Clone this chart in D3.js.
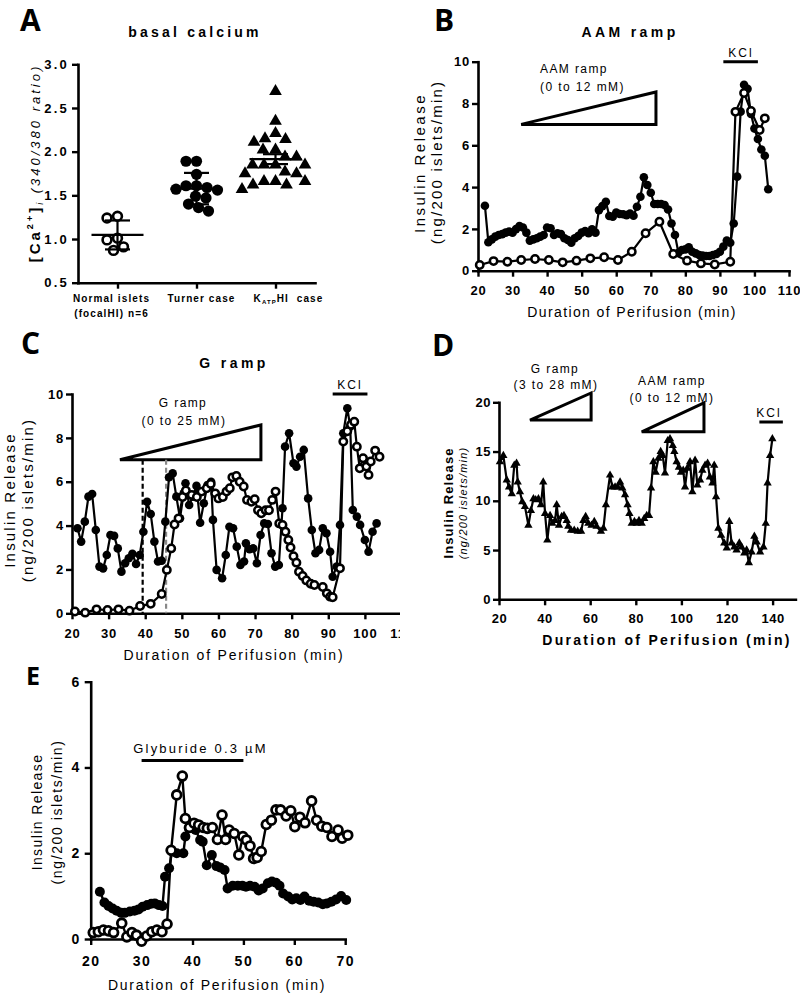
<!DOCTYPE html>
<html><head><meta charset="utf-8">
<script src="https://cdn.jsdelivr.net/npm/d3@7"></script>
<style>
body{margin:0;background:#fff;}
svg{display:block;}
</style></head><body>
<svg id="c" width="800" height="994"></svg>
<script>
// ================= DATA =================
// Panel A – basal calcium
const aCategories = ["Normal islets", "Turner case", "KATPHI case"];
const aNormal = [1.24, 1.26, 0.99, 1.01, 0.87, 0.91];
const aTurner = [1.89, 1.89, 1.74, 1.61, 1.59, 1.57, 1.61, 1.56, 1.49, 1.47, 1.40, 1.36, 1.32];
const aKatp = [2.69, 2.35, 2.21, 2.15, 2.14, 2.11, 2.02, 2.02, 1.94, 1.94, 1.85, 1.85, 1.85, 1.85,
               1.77, 1.75, 1.75, 1.66, 1.66, 1.66, 1.62, 1.62, 1.57];
const aYTicks = [0.5, 1.0, 1.5, 2.0, 2.5, 3.0];

// Panel B – AAM ramp
const bTimeFilled = [22,23,24,25,26,27,28,29,30,31,32,33,34,35,36,37,38,39,40,41,42,43,44,45,46,47,48,49,50,51,
  52,53,54,55,56,57,58,59,60,61,62,63,64,65,66,67,68,69,70,71,72,73,74,75,76,77,78,79,80,81,
  82,83,84,85,86,87,88,89,90,91,92,93,94,95,96,97,98,99,100,101,102,103,104];
const bInsFilled = [3.11,1.36,1.50,1.63,1.71,1.75,1.82,1.87,1.82,1.99,
  2.14,2.07,1.82,1.44,1.50,1.55,1.63,1.71,2.07,2.03,
  1.71,1.79,1.75,1.55,1.47,1.34,1.55,1.66,1.82,1.90,
  1.79,1.98,1.82,2.90,3.09,3.30,2.62,2.58,2.78,2.71,
  2.70,2.66,2.74,2.63,3.06,3.54,4.47,4.10,3.73,3.19,
  3.19,3.19,3.14,2.93,2.26,1.71,0.86,0.99,1.02,1.12,
  0.91,0.83,0.75,0.72,0.70,0.70,0.75,0.80,0.91,1.15,
  1.44,1.34,2.26,4.50,7.61,8.90,8.70,7.50,6.80,6.30,
  5.80,5.50,3.90];
const bTimeOpen = [20.5,24.5,28.5,32.5,36.5,40.5,44.5,48.5,52.5,56.5,60.5,64.5,68.5,72.5,76.5,80.5,84.5,88.5,93,94.5,97,99,101.5,103];
const bInsOpen = [0.27,0.46,0.43,0.51,0.56,0.51,0.40,0.48,0.59,0.64,0.51,0.91,1.79,2.34,0.80,0.48,0.35,0.30,0.43,7.60,8.50,7.64,6.73,7.29];
const bXTicks = [20,30,40,50,60,70,80,90,100,110];
const bYTicks = [0,2,4,6,8,10];
const bRamp = [32.5, 71.5, 7, 8.55];
const bKcl = [91, 101, 10];

// Panel C – G ramp
const cTimeFilled = [21.5,22.5,23.5,24.5,25.5,26.5,27.5,28.5,29.5,30.5,
  31.5,32.5,33.5,34.5,35.5,36.5,37.5,38.5,39.5,40.5,
  41.5,42.5,43.5,44.5,45.5,46.5,47.5,48.5,49.5,50.5,
  51,52,53,54,55,56,57,58,58.5,59.5,
  61,62,63,64,65,66,67,67.5,68.5,69.5,
  70.5,71.5,72.5,73.5,74.5,75.5,76.5,77.5,78.2,79.3,
  80.5,81.3,82.3,83.3,84.5,85.5,86.5,87.5,88.5,89.5,
  90.5,91.2,92.3,93.2,94.1,95.2,96,96.7,97.8,98.7,
  100,101,102.1,103.2];
const cInsFilled = [3.88,3.27,4.18,5.32,5.44,3.80,2.13,2.05,2.66,3.57,
  3.53,2.96,1.90,2.28,2.51,2.71,2.25,2.66,3.72,5.09,
  4.53,3.27,2.36,2.40,4.18,6.20,6.38,5.32,4.33,5.47,
  5.93,4.94,5.32,5.81,4.13,5.02,5.85,6.00,4.26,1.98,
  1.60,2.66,3.95,3.88,3.04,2.20,2.36,3.19,2.92,2.96,
  2.28,3.57,4.10,4.07,2.74,2.13,2.20,4.79,7.60,8.21,
  6.84,6.69,7.14,7.45,5.24,3.80,2.74,2.89,3.88,3.65,
  2.81,1.67,2.13,4.03,8.21,9.35,8.51,4.71,4.41,4.03,
  3.34,2.81,3.72,4.10];
const cTimeOpen = [20.8,23.6,26.7,29.7,32.7,35.7,38.6,41.5,44.5,45.9,
  47.1,48,49.1,50.2,51.1,52.7,54.1,55.4,56.8,57.9,
  59.1,60,61.2,62.2,63.1,63.8,64.9,65.8,66.9,67.8,
  69,69.9,70.8,71.7,72.9,73.8,74.7,75.6,76.6,77.5,
  78.3,79.1,79.7,80.5,81.3,82,83,84,85.2,86.2,
  88.5,89.6,90.5,91.2,93.2,94.1,95.2,96.2,97.1,97.8,
  98.6,99.5,100.4,101,101.6,102.8,104];
const cInsOpen = [0.08,0.03,0.18,0.15,0.18,0.12,0.33,0.43,0.88,1.98,
  2.96,4.05,4.33,5.3,5.6,5.4,5.3,5.55,5.7,5.9,
  5.47,5.24,5.3,5.55,5.7,6.2,6.26,6.0,5.78,5.17,
  5.09,5.2,4.7,4.56,4.7,4.7,5.17,5.55,4.1,4.03,
  3.72,3.34,3.0,2.6,2.31,1.9,1.7,1.5,1.35,1.29,
  1.2,0.91,0.76,0.73,2.05,7.83,8.3,8.6,8.74,7.6,
  6.61,7.07,6.69,6.31,6.92,7.42,7.14];
const cXTicks = [20,30,40,50,60,70,80,90,100,110];
const cYTicks = [0,2,4,6,8,10];
const cRamp = [33.1, 71.6, 7, 8.59];
const cKcl = [91.2, 100.7, 10];
const cDashTimes = [39.3, 45.7];

// Panel D – sequential ramps
const dTime = [20.4,21.9,23.4,24.4,25.6,26.7,27.7,28.2,29.2,30.2,
  31.4,32.9,34.0,35.1,36.1,37.3,38.4,39.4,40.2,41.2,
  42.4,43.4,44.6,45.3,46.3,47.5,48.5,49.7,50.4,51.6,
  53.0,54.5,56.0,57.0,58.0,59.2,60.6,61.8,62.8,64.7,
  65.8,66.9,68.7,69.7,70.9,72.0,73.1,74.1,75.3,76.4,
  77.2,78.2,79.4,80.4,81.4,82.6,83.7,84.8,85.8,86.7,
  87.7,88.7,89.9,90.9,91.8,92.8,94.0,95.0,96.2,96.9,
  97.9,98.9,99.8,100.8,101.6,102.6,103.8,104.8,106.0,107.0,
  108.2,109.2,110.4,111.5,112.5,113.6,114.4,115.2,116.2,117.4,
  118.8,119.9,121.0,122.0,123.2,124.2,125.4,126.4,127.6,128.6,
  129.6,130.8,132.0,133.0,134.5,136.0,137.0,137.8,138.9,139.9];
const dIns = [13.95,14.6,12.1,11.4,10.7,13.6,13.8,11.9,10.9,9.9,
  9.4,7.5,9.0,10.2,10.1,10.2,9.6,11.9,8.7,6.0,
  8.5,7.7,8.0,9.6,7.5,8.4,8.5,8.0,7.4,7.0,
  7.0,6.9,6.9,8.0,8.4,7.7,7.5,7.9,7.4,6.9,
  7.2,9.6,12.6,11.4,11.4,11.4,11.9,11.3,10.6,9.6,
  8.7,7.7,7.9,7.7,8.0,7.7,8.2,8.5,8.5,11.3,
  13.95,12.9,14.3,15.0,14.6,12.8,16.1,16.3,15.6,15.0,
  13.95,13.4,12.9,13.1,11.4,13.3,13.95,10.9,14.1,11.6,
  12.1,13.1,13.6,13.8,12.4,11.8,13.6,10.4,7.2,6.5,
  5.7,5.2,7.9,5.7,5.3,5.0,5.7,5.3,4.7,5.0,
  3.7,4.8,6.4,5.8,4.8,5.3,7.7,11.8,14.6,16.3];
const dXTicks = [20,40,60,80,100,120,140];
const dYTicks = [0,5,10,15,20];
const dRampG = [33.6, 60.4, 18.2, 20.95];
const dRampAAM = [82.6, 109.9, 17.0, 19.95];
const dKcl = [134.2, 144.5, 18];

// Panel E – glyburide
const eTimeFilled = [21.8,22.7,23.5,24.3,25.1,26,26.7,27.7,28.6,29.4,
  30.2,31.1,31.9,32.6,33.4,34.1,34.6,35.4,36,36.9,
  38.2,38.6,39.3,40,40.6,41.5,42,42.8,43.8,44.7,
  45.4,46.3,46.9,47.9,48.9,49.8,50.5,51.3,52.2,53,
  53.8,54.8,55.6,56.4,57.1,57.8,58.8,59.6,60.4,61.2,
  62,62.9,63.8,64.7,65.6,66.4,67.3,68.2,69.2,70.2];
const eInsFilled = [1.10,0.85,0.77,0.71,0.66,0.61,0.61,0.64,0.66,0.69,
  0.75,0.79,0.82,0.83,0.79,0.77,1.45,1.65,2.04,2.00,
  2.00,2.39,2.58,2.60,2.54,2.31,2.27,1.72,1.96,1.70,
  1.67,1.61,1.18,1.24,1.24,1.24,1.22,1.24,1.22,1.13,
  1.18,1.30,1.34,1.31,1.24,1.06,0.99,0.92,0.95,0.91,
  0.99,0.89,0.87,0.85,0.81,0.83,0.87,0.92,1.00,0.91];
const eTimeOpen = [20.5,21.5,22.5,23.5,24.5,26.1,27.1,28.1,29,30,
  31,32,33,34,35,35.8,36.9,38,38.6,39.4,
  40.3,41.2,42.1,42.9,43.9,44.9,45.8,46.5,47.2,48.2,
  49.1,49.9,50.6,51.3,52,52.7,53.5,54.5,55.5,56.4,
  57.3,58.4,59.3,60.1,61.1,62.1,63.4,64.4,65.4,66.4,
  67.4,68.6,69.4,70.5];
const eInsOpen = [0.15,0.17,0.21,0.19,0.15,0.37,0.05,0.15,0.09,-0.05,
  0.07,0.17,0.21,0.17,0.35,2.07,3.36,3.80,2.81,2.60,
  2.70,2.66,2.60,2.58,2.60,2.32,2.89,2.32,2.54,2.46,
  1.96,2.39,2.31,2.17,1.88,1.90,2.04,2.67,2.77,3.01,
  3.01,2.87,2.99,2.62,2.84,2.71,3.22,2.77,2.63,2.60,
  2.39,2.54,2.35,2.42];
const eXTicks = [20,30,40,50,60,70];
const eYTicks = [0,2,4,6];
const eGlyb = [30, 50, 4.16];

// ================= DRAWING =================
const FONT = '"Liberation Sans", Arial, Helvetica, sans-serif';
const svg = d3.select("#c").style("font-family", FONT);

function T(x, y, s, o = {}) {
  const t = svg.append("text").attr("x", x).attr("y", y)
    .attr("text-anchor", o.anchor || "middle")
    .style("font-family", o.family || FONT)
    .style("font-size", (o.size || 12) + "px")
    .style("font-weight", o.weight || "normal")
    .style("font-style", o.style || "normal")
    .style("letter-spacing", (o.ls || 0) + "px")
    .attr("fill", "#000");
  if (s !== null) t.text(s);
  if (o.rot) t.attr("transform", `rotate(-90,${x},${y})`);
  return t;
}
function styleAxis(sel, f) {
  sel.select(".domain").attr("stroke", "#000").attr("stroke-width", 2.6).attr("stroke-linecap", "square");
  sel.selectAll(".tick line").attr("stroke", "#000").attr("stroke-width", 2.4);
  sel.selectAll(".tick text").attr("fill", "#000").style("font-family", FONT)
    .style("font-weight", "bold").style("font-size", f.size + "px").style("letter-spacing", f.ls + "px");
}
function panelLetter(x, y, s, size) {
  T(x, y, s, {anchor: "start", family: '"Open Sans", "DejaVu Sans", sans-serif', weight: "bold", size: size});
}

// ---------- Panel A ----------
(function () {
  const x = d3.scalePoint().domain(aCategories).range([78, 315]).padding(0.5);
  const y = d3.scaleLinear().domain([0.5, 3.0]).range([282.7, 64.3]);
  const g = svg.append("g");
  const ax = g.append("g").attr("transform", "translate(0,282.7)")
    .call(d3.axisBottom(x).tickSize(6).tickSizeOuter(0).tickFormat(""));
  styleAxis(ax, {size: 12, ls: 1});
  const ay = g.append("g").attr("transform", "translate(78,0)")
    .call(d3.axisLeft(y).tickValues(aYTicks).tickFormat(d3.format(".1f")).tickSize(6).tickSizeOuter(0).tickPadding(3));
  styleAxis(ay, {size: 13, ls: 2.2});

  function swarm(values, cx, diam) {
    const placed = [], res = new Array(values.length);
    const order = values.map((v, i) => i).sort((a, b) => values[b] - values[a]);
    for (const i of order) {
      const py = y(values[i]);
      let px = cx;
      for (let k = 0; k < 400; k++) {
        const off = (k % 2 === 1 ? -1 : 1) * Math.ceil(k / 2) * 0.5;
        const cand = cx + off;
        if (placed.every(p => Math.hypot(p[0] - cand, p[1] - py) >= diam)) { px = cand; break; }
      }
      placed.push([px, py]); res[i] = [px, py];
    }
    return res;
  }
  const groups = [
    {vals: aNormal, kind: "open", err: "sd"},
    {vals: aTurner, kind: "filled", err: "sd"},
    {vals: aKatp, kind: "tri", err: "sem"}
  ];
  groups.forEach((gr, gi) => {
    const cx = x(aCategories[gi]);
    const pos = swarm(gr.vals, cx, gr.kind === "tri" ? 11.5 : 10.5);
    const pg = g.append("g");
    if (gr.kind === "tri") {
      pg.selectAll("path").data(pos).join("path")
        .attr("d", d3.symbol(d3.symbolTriangle, 70))
        .attr("transform", d => `translate(${d[0]},${d[1]})`).attr("fill", "#000");
    } else {
      pg.selectAll("circle").data(pos).join("circle")
        .attr("cx", d => d[0]).attr("cy", d => d[1])
        .attr("r", gr.kind === "open" ? 4.4 : 5.6)
        .attr("fill", gr.kind === "open" ? "#fff" : "#000")
        .attr("stroke", "#000").attr("stroke-width", gr.kind === "open" ? 2.6 : 0);
    }
    const m = d3.mean(gr.vals);
    const sd = d3.deviation(gr.vals);
    const e = gr.err === "sd" ? sd : sd / Math.sqrt(gr.vals.length);
    const eg = g.append("g").attr("stroke", "#000").attr("stroke-width", 2.2);
    eg.append("line").attr("x1", cx - 26).attr("x2", cx + 26).attr("y1", y(m)).attr("y2", y(m));
    eg.append("line").attr("x1", cx).attr("x2", cx).attr("y1", y(m - e)).attr("y2", y(m + e));
    [m - e, m + e].forEach(v => eg.append("line").attr("x1", cx - 12.5).attr("x2", cx + 12.5).attr("y1", y(v)).attr("y2", y(v)));
  });

  // category labels
  const lab = {size: 10, weight: "bold", ls: 1.1};
  T(x(aCategories[0]) - 6, 301.5, aCategories[0], lab);
  T(x(aCategories[0]) - 6, 317, "(focalHI) n=6", lab);
  T(x(aCategories[1]) + 5, 301.5, aCategories[1], lab);
  const kt = T(x(aCategories[2]) + 13, 301.5, null, lab);
  kt.append("tspan").text("K");
  kt.append("tspan").text("ATP").style("font-size", "6px").attr("dy", 2);
  kt.append("tspan").text("HI  case").attr("dy", -2).style("white-space", "pre");
  kt.style("white-space", "pre");

  // title and y label
  T(195, 37, "basal calcium", {size: 14, weight: "bold", ls: 3.2});
  const yl = T(40, 163, null, {size: 14, rot: true, ls: 3});
  yl.append("tspan").text("[Ca").style("font-weight", "bold").style("font-size", "15px");
  yl.append("tspan").text("2+").style("font-weight", "bold").style("font-size", "9px").attr("dy", -7);
  yl.append("tspan").text("]").style("font-weight", "bold").style("font-size", "15px").attr("dy", 7);
  yl.append("tspan").text("i").style("font-style", "italic").style("font-size", "9px").attr("dy", 3);
  yl.append("tspan").text(" (340/380 ratio)").style("font-style", "italic").style("font-size", "13px").attr("dy", -3);
  panelLetter(20, 31, "A", 30);
})();

// ---------- helpers for time-course panels ----------
function linePanel(cfg) {
  const g = svg.append("g");
  if (cfg.clip) {
    const id = "clipC";
    svg.append("clipPath").attr("id", id).append("rect")
      .attr("x", cfg.clip[0]).attr("y", cfg.clip[1]).attr("width", cfg.clip[2]).attr("height", cfg.clip[3]);
    g.attr("clip-path", `url(#${id})`);
  }
  const x = d3.scaleLinear().domain(cfg.xDomain).range(cfg.xRange);
  const y = d3.scaleLinear().domain(cfg.yDomain).range(cfg.yRange);
  const ax = g.append("g").attr("transform", `translate(0,${cfg.yRange[0]})`)
    .call(d3.axisBottom(x).tickValues(cfg.xTicks).tickFormat(d3.format("d")).tickSize(6).tickSizeOuter(0).tickPadding(cfg.xPad));
  styleAxis(ax, cfg.font);
  const ay = g.append("g").attr("transform", `translate(${cfg.xRange[0]},0)`)
    .call(d3.axisLeft(y).tickValues(cfg.yTicks).tickFormat(d3.format("d")).tickSize(6).tickSizeOuter(0).tickPadding(cfg.yPad));
  styleAxis(ay, cfg.font);
  const dataG = g.append("g");
  return {g: dataG, x, y};
}
function series(p, times, vals, kind, size, lw, ow) {
  const pts = d3.zip(times, vals);
  p.g.append("path").datum(pts).attr("fill", "none").attr("stroke", "#000")
    .attr("stroke-width", lw).attr("stroke-linejoin", "round")
    .attr("d", d3.line().x(d => p.x(d[0])).y(d => p.y(d[1])));
  const mg = p.g.append("g");
  if (kind === "tri") {
    mg.selectAll("path").data(pts).join("path")
      .attr("d", d3.symbol(d3.symbolTriangle, size))
      .attr("transform", d => `translate(${p.x(d[0])},${p.y(d[1])})`).attr("fill", "#000");
  } else {
    mg.selectAll("circle").data(pts).join("circle")
      .attr("cx", d => p.x(d[0])).attr("cy", d => p.y(d[1])).attr("r", size)
      .attr("fill", kind === "open" ? "#fff" : "#000")
      .attr("stroke", "#000").attr("stroke-width", kind === "open" ? (ow || 2.4) : 0);
  }
}
function ramp(p, r, lw) {
  const pts = [[r[0], r[2]], [r[1], r[2]], [r[1], r[3]]];
  p.g.append("path")
    .attr("d", "M" + pts.map(d => p.x(d[0]) + "," + p.y(d[1])).join("L") + "Z")
    .attr("fill", "#fff").attr("stroke", "#000").attr("stroke-width", lw).attr("stroke-linejoin", "miter");
}
function bar(p, b, lw) {
  p.g.append("line").attr("x1", p.x(b[0])).attr("x2", p.x(b[1]))
    .attr("y1", p.y(b[2])).attr("y2", p.y(b[2])).attr("stroke", "#000").attr("stroke-width", lw);
}

// ---------- Panel B ----------
(function () {
  const p = linePanel({xDomain: [20, 110], xRange: [478, 789], yDomain: [0, 10], yRange: [270.7, 61.7],
    xTicks: bXTicks, yTicks: bYTicks, xPad: 9, yPad: 2, font: {size: 13, ls: 0.8}});
  ramp(p, bRamp, 3);
  bar(p, bKcl, 3);
  series(p, bTimeFilled, bInsFilled, "filled", 4.3, 2.2);
  series(p, bTimeOpen, bInsOpen, "open", 3.7, 2.2, 2.5);
  T(540, 73, "AAM ramp", {anchor: "start", size: 12, ls: 1.4});
  T(540, 90.7, "(0 to 12 mM)", {anchor: "start", size: 12, ls: 1.4});
  T(741, 57, "KCl", {size: 12, ls: 2});
  T(630, 37, "AAM ramp", {size: 14, weight: "bold", ls: 3.4});
  T(632, 317, "Duration of Perifusion (min)", {size: 14, ls: 1.4});
  T(425, 163, "Insulin Release", {size: 15, ls: 2.5, rot: true});
  T(442, 162, "(ng/200 islets/min)", {size: 15, ls: 2.2, rot: true});
  panelLetter(434, 31, "B", 30);
})();

// ---------- Panel C ----------
(function () {
  const p = linePanel({xDomain: [20, 110], xRange: [72, 401.5], yDomain: [0, 10], yRange: [613.3, 394],
    xTicks: cXTicks, yTicks: cYTicks, xPad: 9, yPad: 2, font: {size: 13, ls: 0.8}, clip: [0, 320, 400, 340]});
  ramp(p, cRamp, 3);
  bar(p, cKcl, 3);
  p.g.append("line").attr("x1", p.x(cDashTimes[0])).attr("x2", p.x(cDashTimes[0]))
    .attr("y1", p.y(cRamp[2])).attr("y2", p.y(0)).attr("stroke", "#000").attr("stroke-width", 2.2).attr("stroke-dasharray", "5,3");
  p.g.append("line").attr("x1", p.x(cDashTimes[1])).attr("x2", p.x(cDashTimes[1]))
    .attr("y1", p.y(cRamp[2])).attr("y2", p.y(0)).attr("stroke", "#888").attr("stroke-width", 2.2).attr("stroke-dasharray", "5,3");
  series(p, cTimeFilled, cInsFilled, "filled", 4.3, 2.2);
  series(p, cTimeOpen, cInsOpen, "open", 3.7, 2.2, 2.5);
  T(183, 406.7, "G ramp", {size: 12, ls: 1.4});
  T(184, 425, "(0 to 25 mM)", {size: 12, ls: 1.4});
  T(350, 389, "KCl", {size: 12, ls: 2});
  T(234, 368, "G ramp", {size: 14, weight: "bold", ls: 3.4});
  T(234, 660, "Duration of Perifusion (min)", {size: 14, ls: 1.8});
  T(15, 500, "Insulin Release", {size: 15, ls: 2.2, rot: true});
  T(33, 500, "(ng/200 islets/min)", {size: 15, ls: 2.2, rot: true});
  panelLetter(21, 354, "C", 30);
})();

// ---------- Panel D ----------
(function () {
  const p = linePanel({xDomain: [20, 150], xRange: [499, 795.4], yDomain: [0, 20], yRange: [599.3, 402.3],
    xTicks: dXTicks, yTicks: dYTicks, xPad: 8, yPad: 2, font: {size: 13, ls: 0.5}});
  ramp(p, dRampG, 3);
  ramp(p, dRampAAM, 3);
  bar(p, dKcl, 3);
  series(p, dTime, dIns, "tri", 30, 2.2);
  T(555, 373, "G ramp", {size: 12, ls: 1.4});
  T(556, 389, "(3 to 28 mM)", {size: 12, ls: 1.4});
  T(672, 385, "AAM ramp", {size: 12, ls: 1.4});
  T(672, 401.7, "(0 to 12 mM)", {size: 12, ls: 1.4});
  T(769, 416.7, "KCl", {size: 12, ls: 2});
  T(667, 645, "Duration of Perifusion (min)", {size: 14, weight: "bold", ls: 2.3});
  T(453, 503, "Insulin Release", {size: 13, weight: "bold", ls: 1.1, rot: true});
  T(467, 503, "(ng/200 islets/min)", {size: 11, style: "italic", ls: 1.2, rot: true});
  panelLetter(432, 356, "D", 30);
})();

// ---------- Panel E ----------
(function () {
  const p = linePanel({xDomain: [20, 70], xRange: [90.7, 345.2], yDomain: [0, 6], yRange: [939, 681.7],
    xTicks: eXTicks, yTicks: eYTicks, xPad: 11, yPad: 4, font: {size: 14, ls: 1.5}});
  bar(p, eGlyb, 3);
  series(p, eTimeFilled, eInsFilled, "filled", 5, 2.4);
  series(p, eTimeOpen, eInsOpen, "open", 4.4, 2.4, 2.8);
  T(200.5, 752.7, "Glyburide 0.3 \u00B5M", {size: 13, ls: 2.2});
  T(217, 990, "Duration of Perifusion (min)", {size: 14, ls: 1.7});
  T(42, 812, "Insulin Release", {size: 14, ls: 1.4, rot: true});
  T(62, 812, "(ng/200 islets/min)", {size: 14, ls: 1.6, rot: true});
  panelLetter(26, 685, "E", 25);
})();
</script>
</body></html>
